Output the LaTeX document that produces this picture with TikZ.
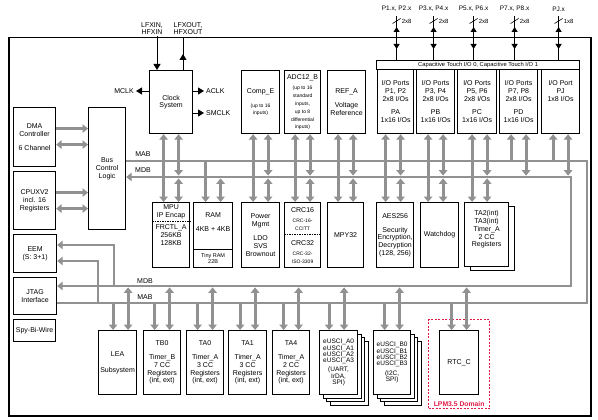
\documentclass[tikz,border=0pt]{standalone}
\usepackage{fontspec}
\setmainfont{Liberation Sans}
\usetikzlibrary{arrows.meta,positioning,shadows}
\definecolor{busgray}{RGB}{145,145,145}
\definecolor{lpmred}{RGB}{225,25,70}
\newcommand\blkfont{\fontsize{7}{7.8}\selectfont}
\newcommand\minifont{\fontsize{5}{5.8}\selectfont}
\tikzset{
  box/.style={draw, line width=1.2pt, anchor=north west, inner sep=0.5pt, align=center, font=\blkfont},
  sz/.style 2 args={minimum width=#1, minimum height=#2},
  lbl/.style={inner sep=0pt, align=center, font=\blkfont},
  sig/.style={inner sep=2pt, align=center, font=\fontsize{7}{7.5}\selectfont},
  bus/.style={busgray, line width=2.8pt},
  busarr/.style={bus, -{Triangle[length=5.5pt,width=8.5pt]}},
  busdbl/.style={bus, {Triangle[length=5.5pt,width=8.5pt]}-{Triangle[length=5.5pt,width=8.5pt]}},
  clkarr/.style={line width=0.9pt, -{Triangle[length=6pt,width=7pt]}},
  portline/.style={line width=0.9pt},
  portarr/.style={line width=0.9pt, {Triangle[length=5pt,width=6pt]}-{Triangle[length=5pt,width=6pt]}},
  shade1/.style 2 args={general shadow={shadow xshift=#1, shadow yshift=-#2, draw=black, fill=white, line width=1.2pt}},
  stackfont/.style={font=\fontsize{6.5}{6.3}\selectfont},
}
\begin{document}
\begin{tikzpicture}[x=1pt,y=-1pt]
\useasboundingbox (0,0) rectangle (598,420);
\node[box, line width=1.5pt, sz={582pt}{378pt}] (chip) at (8,37) {};

\coordinate (mabT) at (587,161);
\coordinate (mdbT) at (571,177);
\coordinate (mdbB) at (571,286);
\coordinate (mabB) at (587,303);

% left column
\node[box, sz={42pt}{59pt}] (dma) at (13,107) {DMA\\Controller\\[6pt]6 Channel};
\node[box, sz={42pt}{58pt}] (cpu) at (13,171) {CPUXV2\\incl. 16\\Registers};
\node[box, sz={43pt}{38pt}] (eem) at (13,234) {EEM\\(S: 3+1)};
\node[box, sz={43pt}{37pt}] (jtag) at (13,277) {JTAG\\Interface};
\node[box, sz={42pt}{22pt}] (sbw) at (13,319) {Spy-Bi-Wire};
\node[box, sz={37pt}{122pt}] (bcl) at (88,107) {Bus\\Control\\Logic};

% top row
\node[box, sz={43pt}{63pt}] (clk) at (149,70) {Clock\\System};
\node[box, sz={38pt}{63pt}] (compe) at (241,70) {Comp\_E\\[6pt]\minifont (up to 16\\\minifont inputs)};
\node[box, sz={36pt}{63pt}] (adc) at (284,70) {ADC12\_B\\[3pt]\minifont (up to 16\\\minifont standard\\\minifont inputs,\\\minifont up to 8\\\minifont differential\\\minifont inputs)};
\node[box, sz={38pt}{63pt}] (refa) at (327,70) {REF\_A\\[6pt]Voltage\\Reference};
\node[box, sz={203pt}{9pt}, font=\fontsize{5.8}{6}\selectfont] (ctouch) at (376,60) {Capacitive Touch I/O 0, Capacitive Touch I/O 1};
\node[box, sz={36pt}{64pt}] (pa) at (377,69) {I/O Ports\\P1, P2\\2x8 I/Os\\[6pt]PA\\1x16 I/Os};
\node[box, sz={38pt}{64pt}] (pb) at (416,69) {I/O Ports\\P3, P4\\2x8 I/Os\\[6pt]PB\\1x16 I/Os};
\node[box, sz={39pt}{64pt}] (pc) at (457,69) {I/O Ports\\P5, P6\\2x8 I/Os\\[6pt]PC\\1x16 I/Os};
\node[box, sz={38pt}{64pt}] (pd) at (499,69) {I/O Ports\\P7, P8\\2x8 I/Os\\[6pt]PD\\1x16 I/Os};
\node[box, sz={38pt}{64pt}] (pj) at (541,69) {I/O Port\\PJ\\1x8 I/Os\\[6pt]\phantom{PJ}\\\phantom{1x8}};

% middle row
\node[box, sz={37pt}{65pt}] (mpu) at (152,202) {};
\node[lbl] (mpuT) at ([yshift=-10pt]mpu.north) {MPU\\IP Encap};
\draw[line width=0.7pt, dash pattern=on 1.5pt off 1pt] ([yshift=-19pt]mpu.north west) -- ([yshift=-19pt]mpu.north east);
\node[lbl] (mpuB) at ([yshift=-33pt]mpu.north) {FRCTL\_A\\256KB\\128KB};
\node[box, sz={39pt}{65pt}] (ram) at (193,202) {};
\node[lbl] (ramT) at ([yshift=-20pt]ram.north) {RAM\\[6pt]4KB + 4KB};
\draw[line width=1pt] ([yshift=-47pt]ram.north west) -- ([yshift=-47pt]ram.north east);
\node[lbl, font=\fontsize{5.5}{6}\selectfont] (ramB) at ([yshift=-56.5pt]ram.north) {Tiny RAM\\22B};
\node[box, sz={38pt}{65pt}] (pwr) at (241,202) {Power\\Mgmt\\[6pt]LDO\\SVS\\Brownout};
\node[box, sz={36pt}{65pt}] (crc) at (284,202) {};
\node[lbl] (crcT) at ([yshift=-17pt]crc.north) {CRC16\\[2pt]\minifont CRC-16-\\\minifont CCITT};
\draw[line width=0.7pt, dash pattern=on 1.5pt off 1pt] ([yshift=-32.5pt]crc.north west) -- ([yshift=-32.5pt]crc.north east);
\node[lbl] (crcB) at ([yshift=-50pt]crc.north) {CRC32\\[2pt]\minifont CRC-32-\\\minifont ISO-3309};
\node[box, sz={36pt}{65pt}] (mpy) at (327,202) {MPY32};
\node[box, sz={37pt}{65pt}] (aes) at (376,202) {AES256\\[6pt]Security\\Encryption,\\Decryption\\(128, 256)};
\node[box, sz={38pt}{65pt}] (wdt) at (420,202) {Watchdog};
\node[box, sz={44pt}{64pt}, fill=white, shade1={6pt}{4pt}] (ta2) at (464,202) {TA2(int)\\TA3(int)\\Timer\_A\\2 CC\\Registers\\[4pt]~};

% bottom row
\node[box, sz={38pt}{64pt}] (lea) at (98,330) {LEA\\[8pt]Subsystem};
\node[box, sz={37pt}{64pt}] (tb0) at (143,330) {TB0\\[6pt]Timer\_B\\7 CC\\Registers\\(int, ext)};
\node[box, sz={37pt}{64pt}] (ta0) at (186,330) {TA0\\[6pt]Timer\_A\\3 CC\\Registers\\(int, ext)};
\node[box, sz={38pt}{64pt}] (ta1) at (228,330) {TA1\\[6pt]Timer\_A\\3 CC\\Registers\\(int, ext)};
\node[box, sz={37pt}{64pt}] (ta4) at (272,330) {TA4\\[6pt]Timer\_A\\2 CC\\Registers\\(int, ext)};
\node[box, sz={38pt}{64pt}, fill=white, shade1={10.5pt}{10.5pt}, shade1={7pt}{7pt}, shade1={3.5pt}{3.5pt}, stackfont] (eua) at (319,330) {eUSCI\_A0\\eUSCI\_A1\\eUSCI\_A2\\eUSCI\_A3\\[3pt](UART,\\IrDA,\\SPI)};
\node[box, sz={37pt}{64pt}, fill=white, shade1={10.5pt}{10.5pt}, shade1={7pt}{7pt}, shade1={3.5pt}{3.5pt}, stackfont] (eub) at (373,330) {eUSCI\_B0\\eUSCI\_B1\\eUSCI\_B2\\eUSCI\_B3\\[3pt](I2C,\\SPI)};
\node[box, draw=lpmred, line width=1.3pt, dash pattern=on 2pt off 1.5pt, sz={61pt}{89pt}] (lpm) at (428,319) {};
\node[lbl, text=lpmred, font=\fontsize{6.8}{7}\selectfont\bfseries, above=2.5pt of lpm.south] (lpml) {LPM3.5 Domain};
\node[box, sz={39pt}{64pt}] (rtc) at (439,330) {RTC\_C};

% clock signals
\node[sig, align=center] (lfxin) at (152,28.5) {LFXIN,\\HFXIN};
\node[sig, align=center] (lfxout) at (188,28.5) {LFXOUT,\\HFXOUT};
\coordinate (xin) at (157,36);
\coordinate (xout) at (183,37);
\draw[clkarr] (xin) -- (xin |- clk.north);
\draw[line width=0.9pt] (xout |- clk.north) -- (xout);
\draw[clkarr] (xout |- clk.north) -- ++(0,-16);
\node[sig, anchor=east] (mclk) at (136,91) {MCLK};
\node[sig, anchor=west] (aclk) at (204,91) {ACLK};
\node[sig, anchor=west] (smclk) at (204,113) {SMCLK};
\draw[clkarr] (clk.west |- mclk) -- (mclk.east);
\draw[clkarr] (clk.east |- aclk) -- (aclk.west);
\draw[clkarr] (clk.east |- smclk) -- (smclk.west);

% ports
\coordinate (ptop) at (0,16);
\coordinate (pup) at (0,27);
\coordinate (pdn) at (0,49);
\coordinate (pcut) at (0,21);
\coordinate (plab) at (0,9);
\foreach \prt/\ofs/\lab/\bw in {pa/1/{P1.x, P2.x}/2x8, pb/-2/{P3.x, P4.x}/2x8, pc/-3.5/{P5.x, P6.x}/2x8, pd/-4/{P7.x, P8.x}/2x8, pj/-2/{PJ.x}/1x8}{
  \coordinate (\prt T) at ([xshift=\ofs pt]\prt.north);
  \coordinate (\prt S) at (\prt T |- pcut);
  \draw[portline] (\prt T |- ctouch.north) -- (\prt T |- ptop);
  \draw[portarr] (\prt T |- pdn) -- (\prt T |- pup);
  \draw[line width=0.6pt] ([shift={(-4pt,-2.5pt)}]\prt S) -- ([shift={(4pt,2.5pt)}]\prt S);
  \node[sig, font=\fontsize{6}{7}\selectfont, right=3pt of \prt S] (\prt W) {\bw};
  \node[sig, font=\fontsize{6.5}{7}\selectfont] (\prt L) at (\prt T |- plab) {\lab};
}

% buses
\draw[bus] (bcl.east |- mabT) -- (mabT) -- (mabB) -- (jtag.east |- mabB);
\draw[busdbl] (bcl.east |- mdbT) -- (mdbT) -- (mdbB) -- (jtag.east |- mdbB);
\node[sig, font=\blkfont] (mab1) at (143,154) {MAB};
\node[sig, font=\blkfont] (mdb1) at (143,170) {MDB};
\node[sig, font=\blkfont] (mdb2) at (145,281) {MDB};
\node[sig, font=\blkfont] (mab2) at (145,297) {MAB};

\coordinate (dma1) at ([yshift=8.5pt]dma.east);
\coordinate (dma2) at ([yshift=-7.5pt]dma.east);
\coordinate (cpu1) at ([yshift=8pt]cpu.east);
\coordinate (cpu2) at ([yshift=-8pt]cpu.east);
\draw[busarr] (dma1) -- (dma1 -| bcl.west);
\draw[busdbl] (dma2) -- (dma2 -| bcl.west);
\draw[busarr] (cpu1) -- (cpu1 -| bcl.west);
\draw[busdbl] (cpu2) -- (cpu2 -| bcl.west);

\coordinate (eemd) at (114,245);
\coordinate (eema) at (98,261);
\draw[busarr] (eemd |- mdbB) -- (eemd) -- (eemd -| eem.east);
\draw[busarr] (eema |- mabB) -- (eema) -- (eema -| eem.east);

\foreach \up/\dn/\ofs in {clk/mpu/0, compe/pwr/0, adc/crc/0, refa/mpy/-1, pa/aes/-2.5, pb/wdt/0, pc/ta2/2.5}{
  \coordinate (\up A) at ([xshift={(\ofs-7.5)*1pt}]\up.south);
  \coordinate (\up D) at ([xshift={(\ofs+7.5)*1pt}]\up.south);
  \draw[busdbl] (\up A) -- (\up A |- \dn.north);
  \draw[busdbl, shorten >=1.4pt] (\up D) -- (\up D |- mdbT);
  \draw[busdbl, shorten >=1.4pt] (\up D |- \dn.north) -- (\up D |- mdbT);
}
\foreach \up in {pd, pj}{
  \coordinate (\up A) at ([xshift=-7.5pt]\up.south);
  \coordinate (\up D) at ([xshift=7.5pt]\up.south);
  \draw[busarr] (\up A |- mabT) -- (\up A);
  \draw[busdbl, shorten >=1.4pt] (\up D) -- (\up D |- mdbT);
}
\coordinate (ramA) at ([xshift=-7.5pt]ram.north);
\coordinate (ramD) at ([xshift=7.5pt]ram.north);
\draw[busarr] (ramA |- mabT) -- (ramA);
\draw[busdbl, shorten <=1.4pt] (ramD |- mdbT) -- (ramD);

\foreach \dn/\ofs in {lea/3, tb0/0, ta0/0, ta1/0, ta4/0, eua/-2, eub/0, rtc/0}{
  \coordinate (\dn A) at ([xshift={(\ofs-7.5)*1pt}]\dn.north);
  \coordinate (\dn D) at ([xshift={(\ofs+7.5)*1pt}]\dn.north);
  \draw[busarr] (\dn A |- mabB) -- (\dn A);
  \draw[busdbl, shorten <=1.4pt] (\dn D |- mdbB) -- (\dn D);
}
\end{tikzpicture}
\end{document}
